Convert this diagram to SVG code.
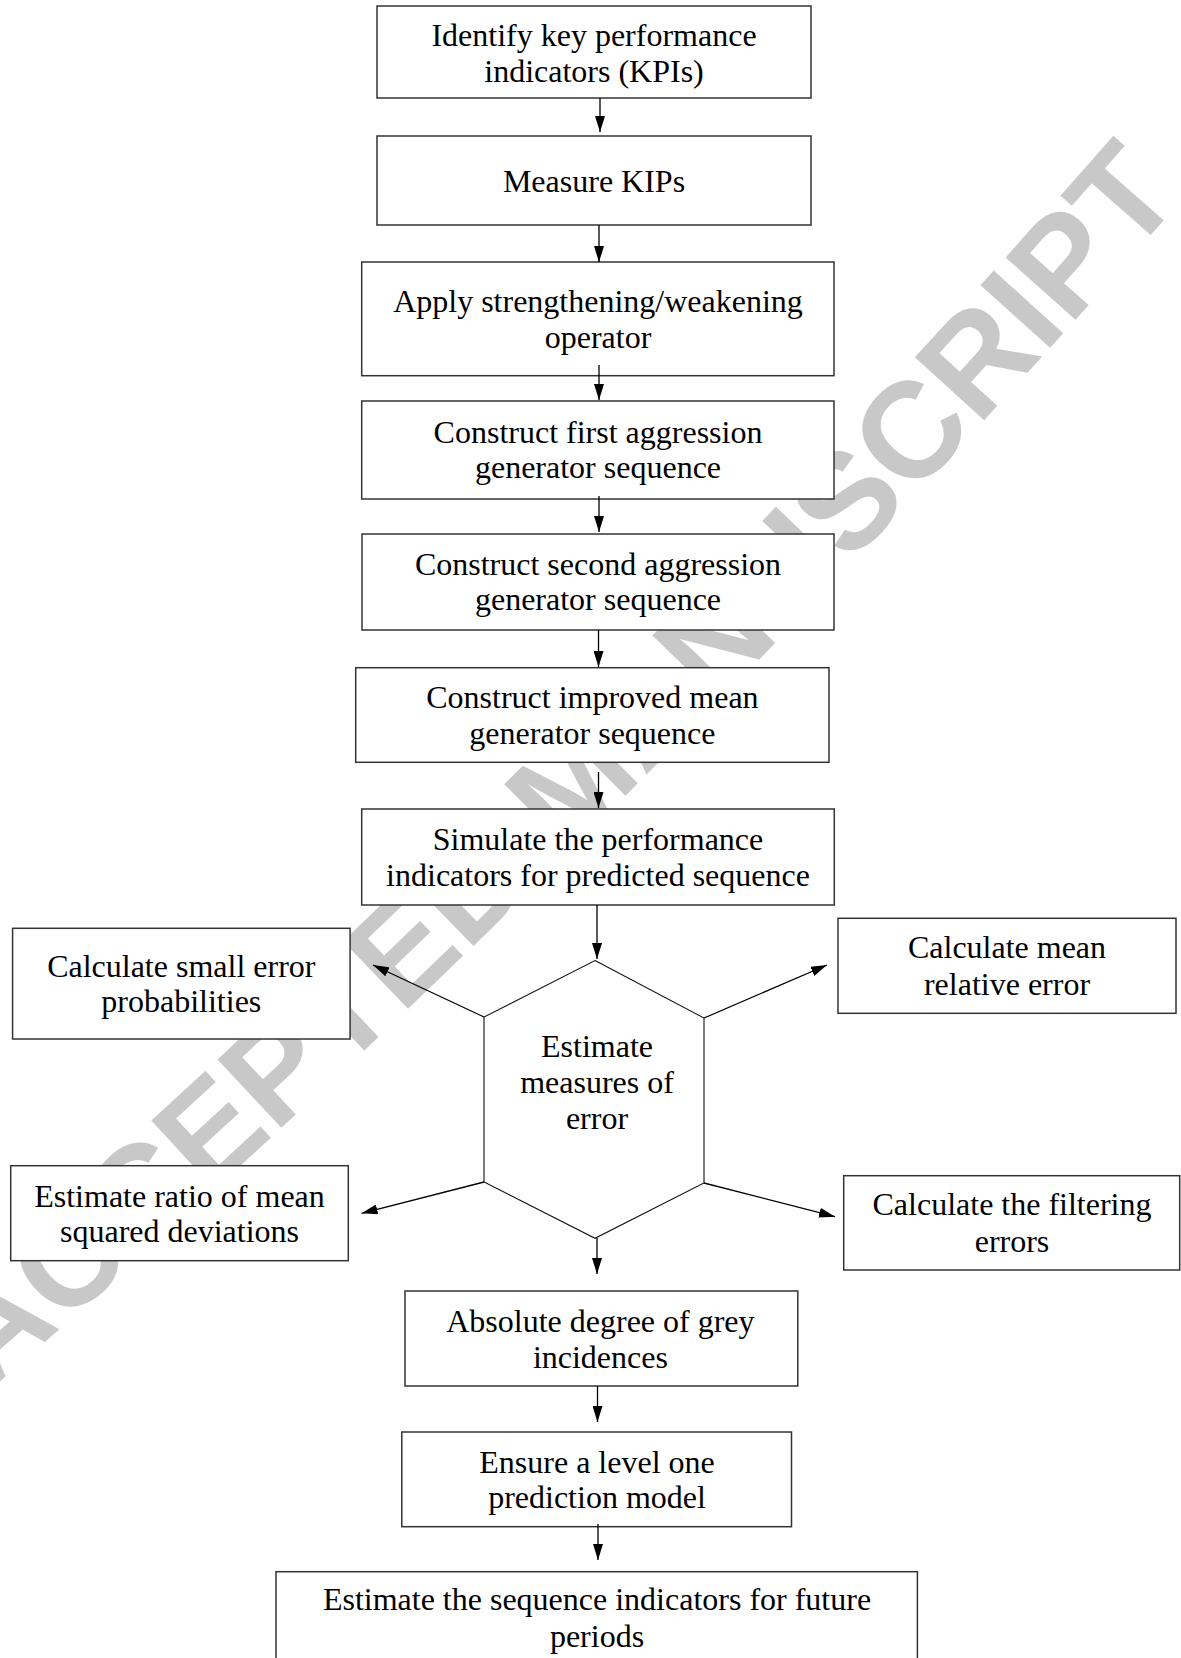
<svg xmlns="http://www.w3.org/2000/svg" width="1181" height="1658" viewBox="0 0 1181 1658">
<style>
.box{fill:#fff;stroke:#333;stroke-width:1.5}
.hex{fill:#fff;stroke:#111;stroke-width:1.1}
.t{font-family:"Liberation Serif","Times New Roman",serif;font-size:32px;fill:#000;text-anchor:middle}
.c{stroke:#000;stroke-width:1.3;fill:none;marker-end:url(#ah)}
.wm{font-family:"Liberation Sans",Arial,sans-serif;font-weight:bold;font-size:136px;fill:#c8c8c8}
</style>
<defs>
<marker id="ah" viewBox="0 0 16 10" refX="16" refY="5" markerWidth="16" markerHeight="10" markerUnits="userSpaceOnUse" orient="auto">
<path d="M0,0 L16,5 L0,10 z" fill="#000"/>
</marker>
<path id="wmpath" d="M -18 1397 Q 626 837 1190 190"/>
</defs>
<rect width="1181" height="1658" fill="#fff"/>
<g id="watermark">
<text class="wm"><textPath href="#wmpath" startOffset="50%" text-anchor="middle">ACCEPTED MANUSCRIPT</textPath></text>
</g>
<g id="n1"><rect class="box" x="377" y="6" width="434" height="92"/><text class="t" x="594" y="46">Identify key performance</text><text class="t" x="594" y="82">indicators (KPIs)</text></g>
<g id="n2"><rect class="box" x="377" y="136" width="434" height="89"/><text class="t" x="594" y="192">Measure KIPs</text></g>
<g id="n3"><rect class="box" x="361.7" y="262" width="472.3" height="113.7"/><text class="t" x="598" y="312">Apply strengthening/weakening</text><text class="t" x="598" y="348">operator</text></g>
<g id="n4"><rect class="box" x="361.7" y="401" width="472.3" height="98"/><text class="t" x="598" y="443">Construct first aggression</text><text class="t" x="598" y="478">generator sequence</text></g>
<g id="n5"><rect class="box" x="362" y="534" width="472" height="96"/><text class="t" x="598" y="575">Construct second aggression</text><text class="t" x="598" y="610">generator sequence</text></g>
<g id="n6"><rect class="box" x="355.7" y="667.7" width="473.3" height="94.6"/><text class="t" x="592.4" y="708">Construct improved mean</text><text class="t" x="592.4" y="744">generator sequence</text></g>
<g id="n7"><rect class="box" x="361.7" y="809" width="472.6" height="96"/><text class="t" x="598" y="850">Simulate the performance</text><text class="t" x="598" y="886">indicators for predicted sequence</text></g>
<g id="n8"><polygon class="hex" points="595,960.5 704,1018 704,1183 595,1238.3 484,1182 484,1017"/><text class="t" x="597" y="1057">Estimate</text><text class="t" x="597" y="1093">measures of</text><text class="t" x="597" y="1129">error</text></g>
<g id="n9"><rect class="box" x="12.6" y="928.3" width="337.5" height="110.7"/><text class="t" x="181.3" y="977">Calculate small error</text><text class="t" x="181.3" y="1012">probabilities</text></g>
<g id="n10"><rect class="box" x="838" y="918.3" width="338" height="95"/><text class="t" x="1007" y="958">Calculate mean</text><text class="t" x="1007" y="995">relative error</text></g>
<g id="n11"><rect class="box" x="10.7" y="1165.7" width="337.6" height="95"/><text class="t" x="179.5" y="1207">Estimate ratio of mean</text><text class="t" x="179.5" y="1242">squared deviations</text></g>
<g id="n12"><rect class="box" x="843.7" y="1175.7" width="336" height="94.3"/><text class="t" x="1012" y="1215">Calculate the filtering</text><text class="t" x="1012" y="1252">errors</text></g>
<g id="n13"><rect class="box" x="405" y="1291" width="392.8" height="95"/><text class="t" x="600.4" y="1332">Absolute degree of grey</text><text class="t" x="600.4" y="1368">incidences</text></g>
<g id="n14"><rect class="box" x="401.8" y="1432" width="389.7" height="94.7"/><text class="t" x="597" y="1473">Ensure a level one</text><text class="t" x="597" y="1508">prediction model</text></g>
<g id="n15"><rect class="box" x="276" y="1571.7" width="641.4" height="100"/><text class="t" x="597" y="1610">Estimate the sequence indicators for future</text><text class="t" x="597" y="1647">periods</text></g>
<g id="connectors">
<line class="c" x1="600" y1="98" x2="600" y2="132"/>
<line class="c" x1="599" y1="225" x2="599" y2="262"/>
<line class="c" x1="599" y1="365" x2="599" y2="400"/>
<line class="c" x1="599" y1="496" x2="599" y2="532"/>
<line class="c" x1="598.5" y1="630" x2="598.5" y2="667"/>
<line class="c" x1="598.5" y1="772" x2="598.5" y2="808"/>
<line class="c" x1="597" y1="905" x2="597" y2="959"/>
<line class="c" x1="484" y1="1017" x2="373" y2="965"/>
<line class="c" x1="484" y1="1182" x2="361.6" y2="1213.3"/>
<line class="c" x1="704" y1="1018" x2="827" y2="965"/>
<line class="c" x1="704" y1="1183" x2="835" y2="1216.7"/>
<line class="c" x1="597" y1="1238" x2="597" y2="1274"/>
<line class="c" x1="597.5" y1="1386" x2="597.5" y2="1422"/>
<line class="c" x1="598" y1="1524" x2="598" y2="1560"/>
</g>
</svg>
